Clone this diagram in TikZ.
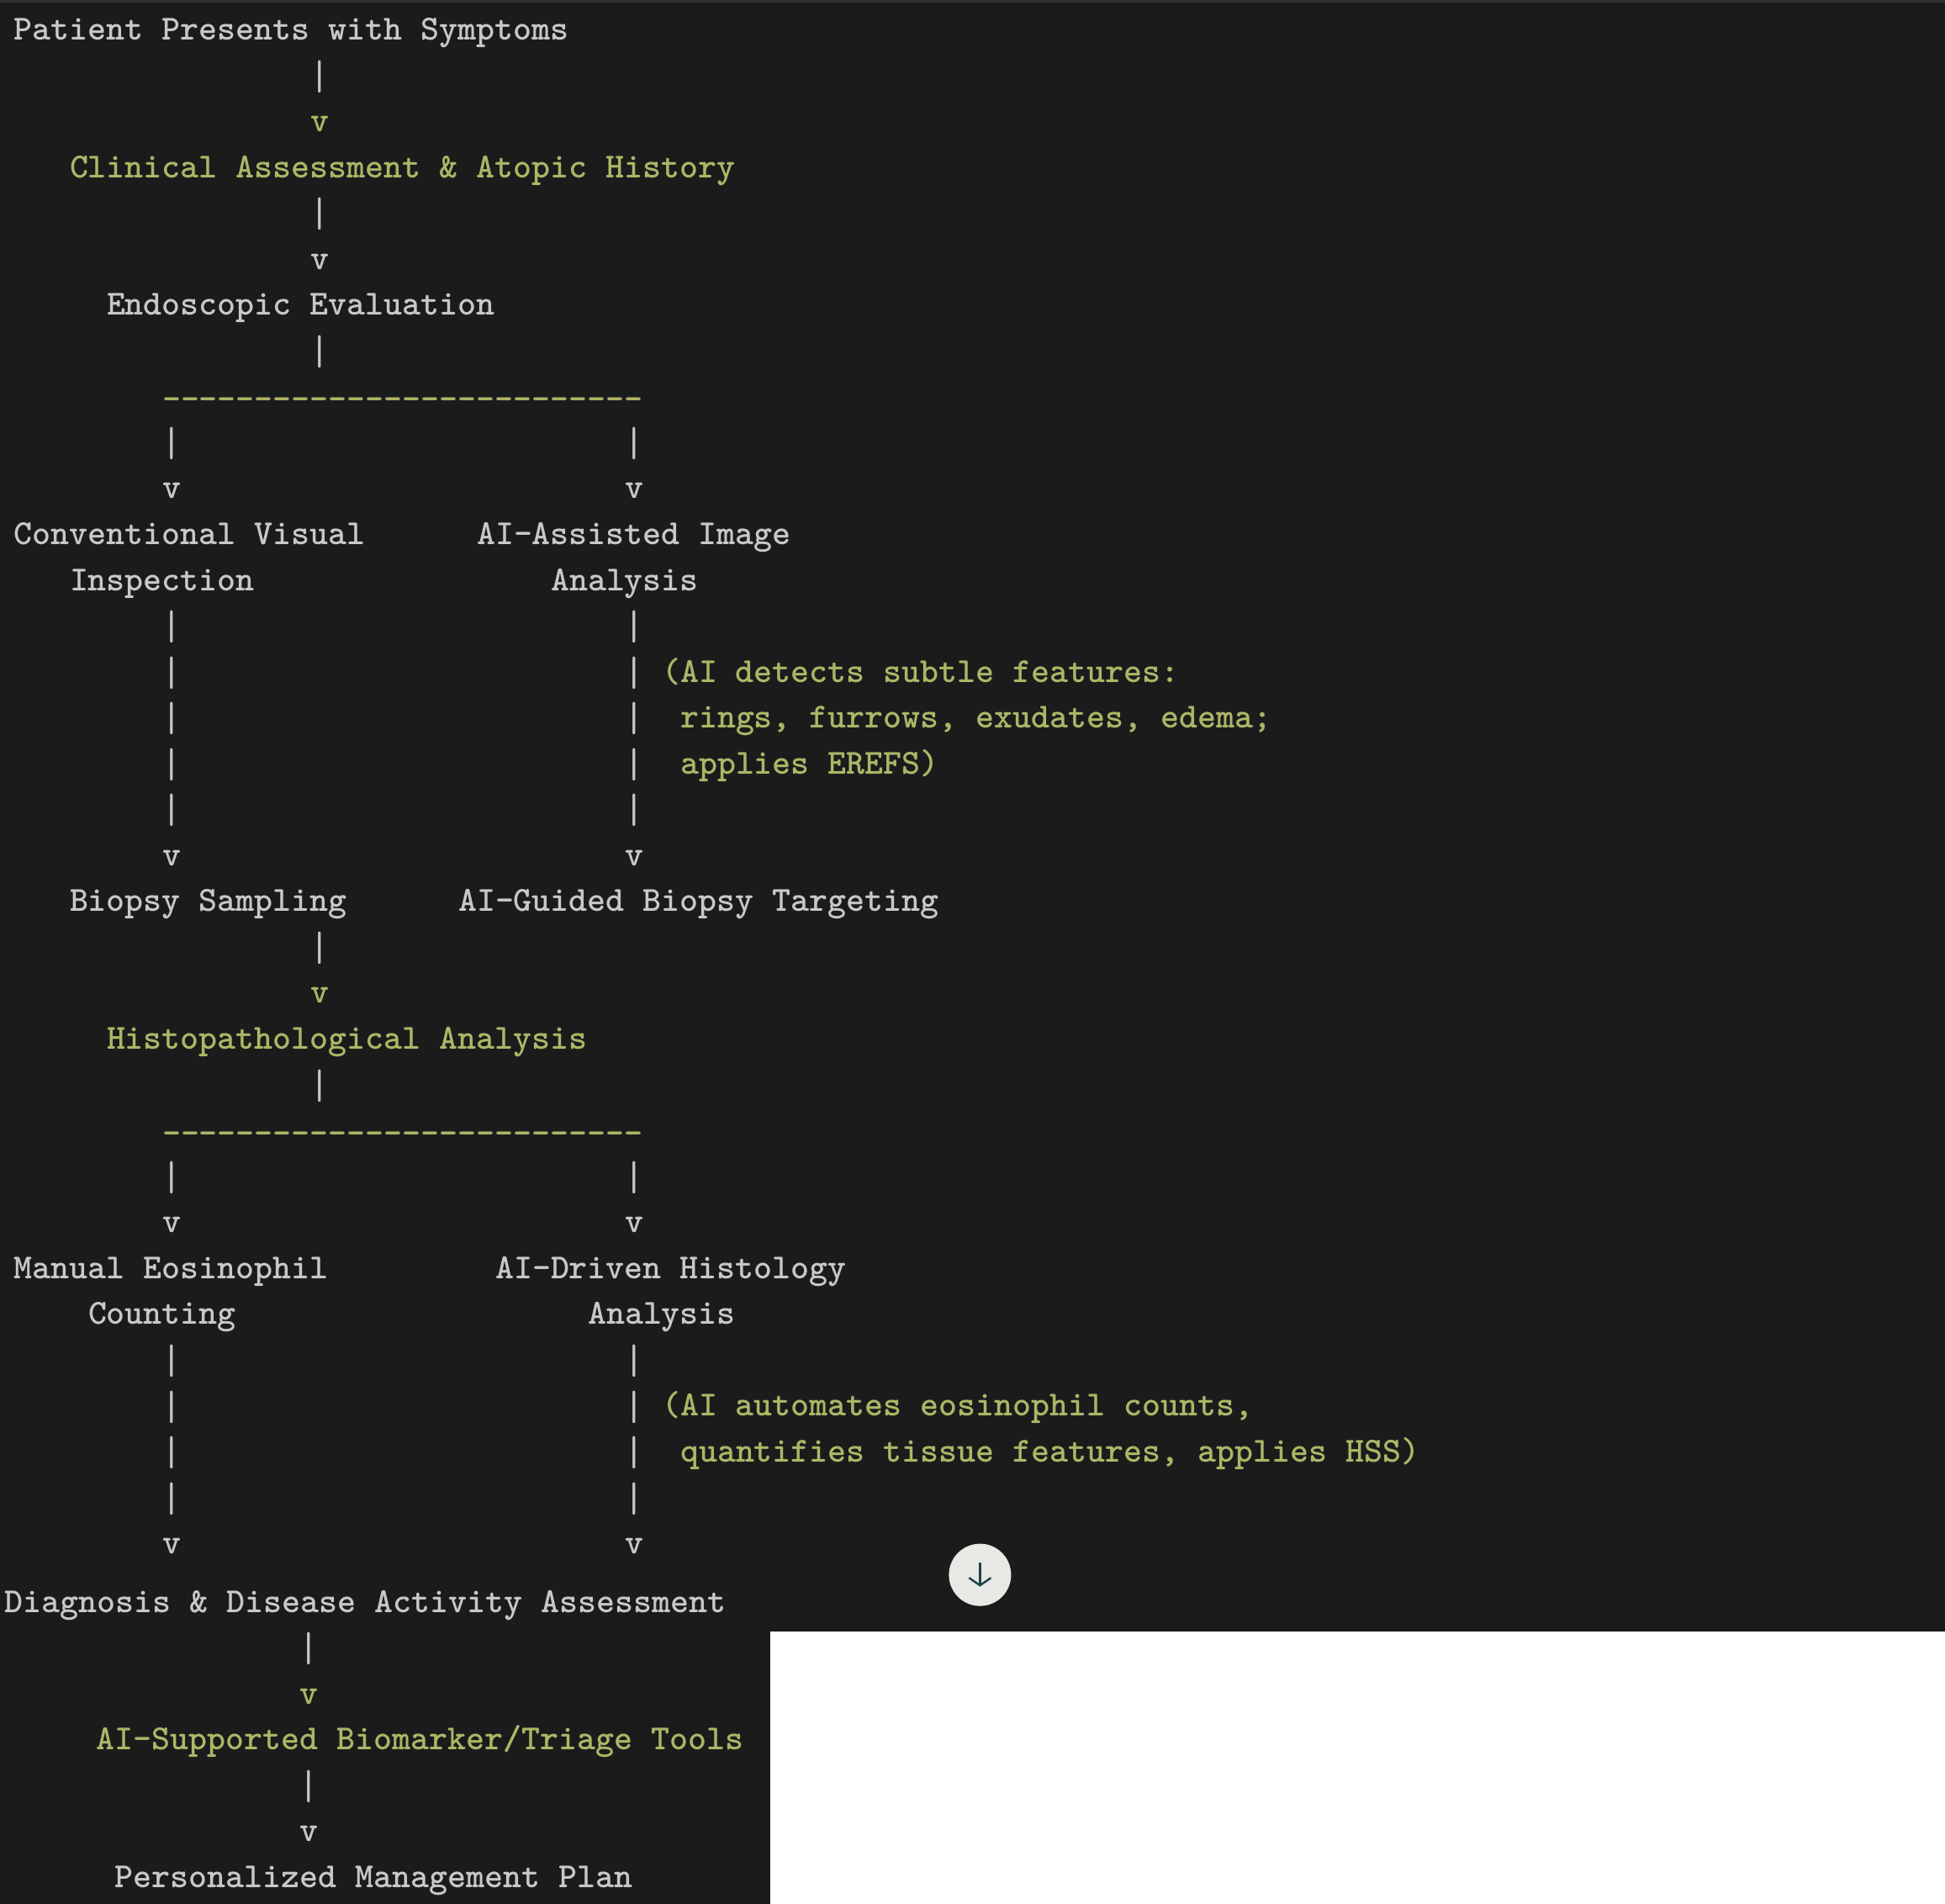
\documentclass[tikz,border=0pt]{standalone}
\usetikzlibrary{positioning,
        shapes,
        arrows.meta}
\usepackage{xcolor}
\definecolor{termbg}{HTML}{1A1C1C}
\definecolor{termtop}{HTML}{303232}
\definecolor{termgray}{HTML}{C8C8C5}
\definecolor{termgreen}{HTML}{AEB566}
\definecolor{btnfill}{HTML}{E8E9E4}
\definecolor{btnarrow}{HTML}{1F4048}
\tikzset{
    term/.style={anchor=base west,inner sep=0pt,outer sep=0pt,text=termgray,
        font=\fontsize{20.95pt}{24pt}\selectfont\ttfamily\bfseries},
    termhl/.style={term,text=termgreen},
    termbar/.style={anchor=base,inner sep=0pt,outer sep=0pt,text=termgray,xshift=5.48pt,yshift=-2.1pt,
        font=\fontsize{24.8pt}{28pt}\selectfont\ttfamily},
    termdash/.style={termhl,yshift=-1.8pt},
    cols/.style={x=11pt,y=-27.275pt},
    colslow/.style={x=10.965pt,y=-27.275pt}
}

\begin{document}
\begin{tikzpicture}[x=1pt,y=1pt]
            \useasboundingbox (0,0) rectangle (1156.5,-1132);
            \fill [termbg] (0,0) rectangle (1156.5,-1132);
            \fill [termtop] (0,0) rectangle (1156.5,-1.5);
            \fill [white] (457.8,-970) rectangle (1156.5,-1132);

            \begin{scope}[shift={(8.5,-23.7)},cols]
            \node [term] (patient) at (0,0) {Patient Presents with Symptoms};
            \node [termbar] (bar1) at (16,1) {|};
            \node [termhl] (v1) at (16,2) {v};
            \node [termhl] (clinical) at (3,3) {Clinical Assessment \& Atopic History};
            \node [termbar] (bar2) at (16,4) {|};
            \node [term] (v2) at (16,5) {v};
            \node [term] (endo) at (5,6) {Endoscopic Evaluation};
            \node [termbar] (bar3) at (16,7) {|};
            \node [termdash] (dash1) at (8,8) {--------------------------};
            \node [termbar] (barl1) at (8,9) {|};
            \node [termbar] (barr1) at (33,9) {|};
            \node [term] (vl1) at (8,10) {v};
            \node [term] (vr1) at (33,10) {v};
            \node [term] (visual) at (0,11) {Conventional Visual};
            \node [term] (image) at (25,11) {AI-Assisted Image};
            \node [term] (inspect) at (3,12) {Inspection};
            \node [term] (analysis1) at (29,12) {Analysis};
            \foreach \n in {13,...,17} {
                \node [termbar] (barl\n) at (8,\n) {|};
                \node [termbar] (barr\n) at (33,\n) {|};
            }
            \node [termhl] (note1) at (35,14) {(AI detects subtle features:};
            \node [termhl] (note2) at (36,15) {rings, furrows, exudates, edema;};
            \node [termhl] (note3) at (36,16) {applies EREFS)};
            \node [term] (vl2) at (8,18) {v};
            \node [term] (vr2) at (33,18) {v};
            \node [term] (biopsy) at (3,19) {Biopsy Sampling};
            \node [term] (target) at (24,19) {AI-Guided Biopsy Targeting};
            \node [termbar] (bar4) at (16,20) {|};
            \node [termhl] (v3) at (16,21) {v};
            \node [termhl] (histo) at (5,22) {Histopathological Analysis};
            \node [termbar] (bar5) at (16,23) {|};
            \node [termdash] (dash2) at (8,24) {--------------------------};
            \node [termbar] (barl2) at (8,25) {|};
            \node [termbar] (barr2) at (33,25) {|};
            \node [term] (vl3) at (8,26) {v};
            \node [term] (vr3) at (33,26) {v};
            \node [term] (manual) at (0,27) {Manual Eosinophil};
            \node [term] (driven) at (26,27) {AI-Driven Histology};
            \node [term] (count) at (4,28) {Counting};
            \node [term] (analysis2) at (31,28) {Analysis};
            \foreach \n in {29,...,32} {
                \node [termbar] (barl\n) at (8,\n) {|};
                \node [termbar] (barr\n) at (33,\n) {|};
            }
            \node [termhl] (note4) at (35,30) {(AI automates eosinophil counts,};
            \node [termhl] (note5) at (36,31) {quantifies tissue features, applies HSS)};
            \node [term] (vl4) at (8,33) {v};
            \node [term] (vr4) at (33,33) {v};
            \end{scope}

            \begin{scope}[shift={(2.6,-958.5)},colslow]
            \node [term] (diag) at (0,0) {Diagnosis \& Disease Activity Assessment};
            \node [termbar] (bar6) at (16,1) {|};
            \node [termhl] (v4) at (16,2) {v};
            \node [termhl] (tools) at (5,3) {AI-Supported Biomarker/Triage Tools};
            \node [termbar] (bar7) at (16,4) {|};
            \node [term] (v5) at (16,5) {v};
            \node [term] (plan) at (6,6) {Personalized Management Plan};
            \end{scope}

            \node [circle,fill=btnfill,minimum size=37pt,inner sep=0pt] (btn) at (582.7,-936.3) {};
            \coordinate (btntop) at ([yshift=7.2pt]btn.center);
            \coordinate (btnend) at ([yshift=-7pt]btn.center);
            \draw [-{Straight Barb[length=4.5pt,width=13pt]}, line width=1.2pt, btnarrow] (btntop) -- (btnend);
\end{tikzpicture}
\end{document}
